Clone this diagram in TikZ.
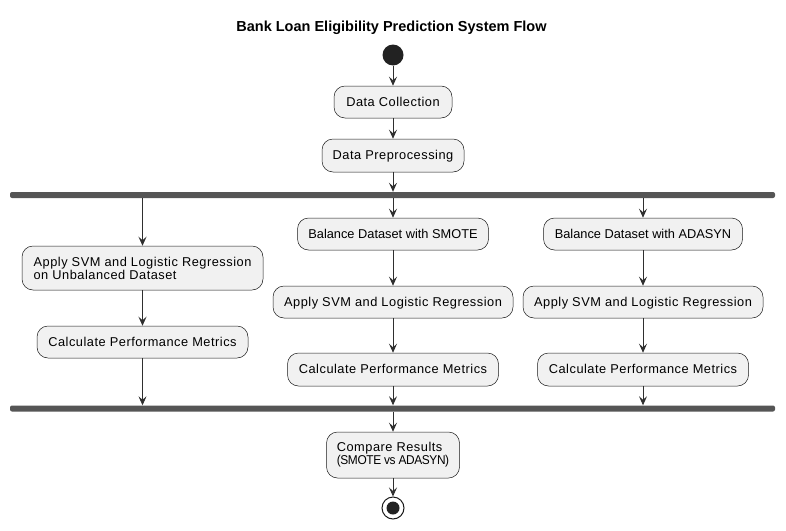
\documentclass[tikz,border=0pt]{standalone}
\usepackage{fontspec}
\setmainfont{Liberation Sans}
\usetikzlibrary{arrows.meta}
\definecolor{boxfill}{HTML}{F1F1F1}
\definecolor{boxline}{HTML}{181818}
\definecolor{barcol}{HTML}{555555}
\definecolor{dotcol}{HTML}{222222}
\tikzset{
  act/.style={draw=boxline, line width=0.5pt, fill=boxfill, rounded corners=11pt,
    inner sep=0pt, font=\fontsize{12.8}{11.8}\selectfont\addfontfeature{LetterSpace=4}, text=black},
  tight/.style={font=\fontsize{12.8}{11.8}\selectfont\addfontfeature{LetterSpace=0}},
  one/.style={text height=9.2pt, text depth=0.6pt},
  bar/.style={fill=barcol, draw=none, rounded corners=2pt, inner sep=0pt},
  arr/.style={draw=boxline!90, line width=0.9pt, -{Stealth[length=9pt,width=8pt,inset=3.5pt]}},
}
\begin{document}
\begin{tikzpicture}[x=1pt,y=-1pt]
\useasboundingbox (0,0) rectangle (786,530);
\node[font=\bfseries\fontsize{14.5}{16}\selectfont] (title) at (391.5,28) {Bank Loan Eligibility Prediction System Flow};

\node[circle, fill=dotcol, minimum size=21pt, inner sep=0pt] (start) at (393,55) {};
\node[act, one, minimum width=118pt, minimum height=32pt] (dc) at (393,102) {Data Collection};
\node[act, one, minimum width=142pt, minimum height=33pt] (dp) at (393,155.5) {Data Preprocessing};

\node[bar, minimum width=765pt, minimum height=6pt] (fork) at (392.5,195) {};

\node[act, minimum width=241pt, minimum height=44pt, align=left] (la) at (142.5,268) {Apply SVM and Logistic Regression\\on Unbalanced Dataset};
\node[act, one, minimum width=211pt, minimum height=32pt] (lc) at (142.5,342) {Calculate Performance Metrics};

\node[act, one, tight, minimum width=191pt, minimum height=32pt] (mb) at (393,234) {Balance Dataset with SMOTE};
\node[act, one, minimum width=240pt, minimum height=32pt] (ma) at (393,302) {Apply SVM and Logistic Regression};
\node[act, one, minimum width=211pt, minimum height=33pt] (mc) at (393,369.5) {Calculate Performance Metrics};

\node[act, one, tight, minimum width=199pt, minimum height=32pt] (rb) at (643,234) {Balance Dataset with ADASYN};
\node[act, one, minimum width=240pt, minimum height=32pt] (ra) at (643,302) {Apply SVM and Logistic Regression};
\node[act, one, minimum width=211pt, minimum height=33pt] (rc) at (643,369.5) {Calculate Performance Metrics};

\node[bar, minimum width=765pt, minimum height=6pt] (join) at (392.5,408.5) {};

\node[act, minimum width=133pt, minimum height=46pt, align=left] (cmp) at (393,455) {Compare Results\\{\addfontfeature{LetterSpace=-3,FakeStretch=0.93}(SMOTE vs ADASYN)}};

\node[circle, draw=boxline, line width=1pt, minimum size=22pt, inner sep=0pt] (end) at (393,508) {};
\node[circle, fill=dotcol, minimum size=13pt, inner sep=0pt] (enddot) at (end.center) {};

\draw[arr] (start) -- (dc);
\draw[arr] (dc) -- (dp);
\draw[arr] (dp) -- (dp |- fork.north);

\draw[arr] (fork.south -| la) -- (la.north);
\draw[arr] (fork.south -| mb) -- (mb.north);
\draw[arr] (fork.south -| rb) -- (rb.north);

\draw[arr] (la) -- (lc);
\draw[arr] (mb) -- (ma);
\draw[arr] (rb) -- (ra);
\draw[arr] (ma) -- (mc);
\draw[arr] (ra) -- (rc);

\draw[arr] (lc.south) -- (lc.south |- join.north);
\draw[arr] (mc.south) -- (mc.south |- join.north);
\draw[arr] (rc.south) -- (rc.south |- join.north);

\draw[arr] (join.south -| cmp) -- (cmp.north);
\draw[arr] (cmp) -- (end);
\end{tikzpicture}
\end{document}
